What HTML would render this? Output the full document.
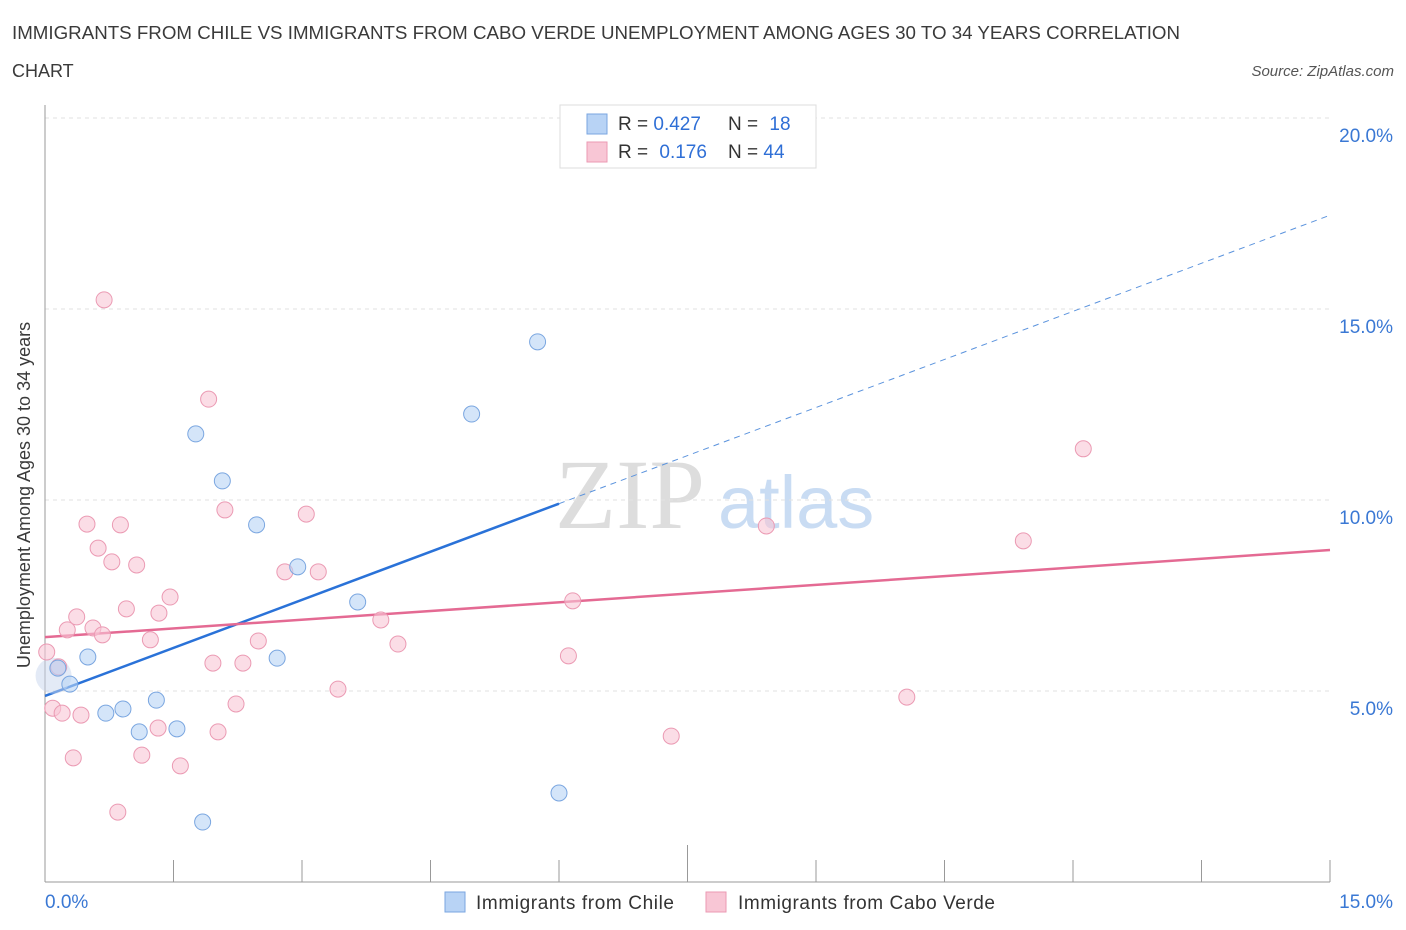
<!DOCTYPE html>
<html><head><meta charset="utf-8"><style>
body{margin:0;background:#fff;font-family:"Liberation Sans",sans-serif;}
#wrap{position:relative;width:1406px;height:930px;overflow:hidden}
</style></head><body>
<div id="wrap">
<svg id="svg" width="1406" height="930" xmlns="http://www.w3.org/2000/svg">
<text x="12" y="39" font-size="18" fill="#3a3a3a" textLength="1168" lengthAdjust="spacingAndGlyphs">IMMIGRANTS FROM CHILE VS IMMIGRANTS FROM CABO VERDE UNEMPLOYMENT AMONG AGES 30 TO 34 YEARS CORRELATION</text>
<text x="12" y="77" font-size="18" fill="#3a3a3a">CHART</text>
<text x="1394" y="76" font-size="15" fill="#555" font-style="italic" text-anchor="end">Source: ZipAtlas.com</text>
<text x="555" y="528" font-size="100" fill="#ddd" font-family="Liberation Serif,serif">ZIP</text>
<text x="718" y="528" font-size="74" fill="#c9dcf3">atlas</text>
<text x="30" y="495" font-size="18" fill="#3a3a3a" text-anchor="middle" transform="rotate(-90 30 495)">Unemployment Among Ages 30 to 34 years</text>
<g id="grid"></g><g id="lines"></g><g id="pts"></g>
<g>
<rect x="560" y="105" width="256" height="63" fill="#fff" stroke="#ddd"/>
<rect x="587" y="114" width="20" height="20" fill="#b8d3f5" stroke="#7aa6e0"/>
<rect x="587" y="142" width="20" height="20" fill="#f8c6d5" stroke="#eb9ab3"/>
<text x="618" y="130" font-size="19" fill="#333">R = <tspan fill="#2f6fd6">0.427</tspan></text>
<text x="728" y="130" font-size="19" fill="#333">N = <tspan fill="#2f6fd6" dx="6">18</tspan></text>
<text x="618" y="158" font-size="19" fill="#333">R = <tspan fill="#2f6fd6" dx="6">0.176</tspan></text>
<text x="728" y="158" font-size="19" fill="#333">N = <tspan fill="#2f6fd6">44</tspan></text>
</g>
<g>
<rect x="445" y="892" width="20" height="20" fill="#b8d3f5" stroke="#7aa6e0"/>
<text x="476" y="909" font-size="19" fill="#333" textLength="198">Immigrants from Chile</text>
<rect x="706" y="892" width="20" height="20" fill="#f8c6d5" stroke="#eb9ab3"/>
<text x="738" y="909" font-size="19" fill="#333" textLength="257">Immigrants from Cabo Verde</text>
</g>
</svg>
</div>
<script>
const yTicks=[5,10,15,20];
const yTickLabels=["5.0%","10.0%","15.0%","20.0%"];
const xTickLabels=["0.0%","15.0%"];
const chileX=[0.15,0.29,0.50,0.71,0.91,1.10,1.30,1.54,1.76,1.84,2.07,2.47,2.71,2.95,3.65,4.98,5.75,6.00];
const chileY=[5.60,5.18,5.89,4.42,4.53,3.93,4.76,4.01,11.73,1.57,10.50,9.35,5.86,8.25,7.33,12.25,14.14,2.33];
const caboX=[0.02,0.09,0.16,0.20,0.26,0.33,0.37,0.42,0.49,0.56,0.62,0.67,0.69,0.78,0.85,0.88,0.95,1.07,1.13,1.23,1.32,1.33,1.46,1.58,1.91,1.96,2.02,2.10,2.23,2.31,2.49,2.80,3.05,3.19,3.42,3.92,4.12,6.11,6.16,7.31,8.42,10.06,11.42,12.12];
const caboY=[6.02,4.55,5.63,4.42,6.60,3.25,6.94,4.37,9.37,6.65,8.74,6.47,15.24,8.38,1.83,9.35,7.15,8.30,3.32,6.34,4.03,7.04,7.46,3.04,12.64,5.73,3.93,9.74,4.66,5.73,6.31,8.12,9.63,8.12,5.05,6.86,6.23,5.92,7.36,3.82,9.32,4.84,8.93,11.34];
const chileTrend=[4.87,0.839,6.0];
const caboTrend=[6.41,0.152];
const NS="http://www.w3.org/2000/svg";
const sx=v=>45+v/15*1285, sy=v=>882-v/5*191;
function mk(t,a,p){const e=document.createElementNS(NS,t);for(const k in a)e.setAttribute(k,a[k]);p.appendChild(e);return e;}
const grid=document.getElementById('grid'),lines=document.getElementById('lines'),pts=document.getElementById('pts');
yTicks.forEach((t,i)=>{
 const l=mk('line',{x1:45,x2:1330,y1:sy(t),y2:sy(t),stroke:'#e2e2e2','stroke-dasharray':'4 4'},grid);
 
 
 const tx=mk('text',{x:1393,y:sy(t)+24,'font-size':19,fill:'#3a78d4','text-anchor':'end'},grid);
 tx.textContent=yTickLabels[i];
 
 
});
const ax=mk('line',{x1:45,x2:45,y1:105,y2:882,stroke:'#999'},grid);


const bx=mk('line',{x1:45,x2:1330,y1:882,y2:882,stroke:'#999'},grid);


for(let i=0;i<=10;i++){const v=i*1.5;const t=mk('line',{x1:sx(v),x2:sx(v),y1:i==5?845:860,y2:882,stroke:'#999'},grid);
 
 }
[[0,'start',45],[15,'end',1393]].forEach((a,i)=>{const t=mk('text',{x:a[2],y:908,'font-size':19,fill:'#3a78d4','text-anchor':a[1]},grid);t.textContent=xTickLabels[i];
 
 });
let l1=mk('line',{x1:sx(0),y1:sy(chileTrend[0]),x2:sx(chileTrend[2]),y2:sy(chileTrend[0]+chileTrend[1]*chileTrend[2]),stroke:'#2a72d8','stroke-width':2.5},lines);


let l2=mk('line',{x1:sx(chileTrend[2]),y1:sy(chileTrend[0]+chileTrend[1]*chileTrend[2]),x2:sx(15),y2:sy(chileTrend[0]+chileTrend[1]*15),stroke:'#5b93dd','stroke-width':1,'stroke-dasharray':'6 5'},lines);


let l3=mk('line',{x1:sx(0),y1:sy(caboTrend[0]),x2:sx(15),y2:sy(caboTrend[0]+caboTrend[1]*15),stroke:'#e46a93','stroke-width':2.5},lines);


const big=mk('circle',{cx:sx(0.1),cy:sy(5.4),r:18,fill:'#c8d6ee','fill-opacity':0.5},pts);


caboX.forEach((x,i)=>{const c=mk('circle',{cx:sx(x),cy:sy(caboY[i]),r:8,fill:'#f8c6d5','fill-opacity':0.6,stroke:'#eb9ab3','stroke-width':1},pts);
 
 });
chileX.forEach((x,i)=>{const c=mk('circle',{cx:sx(x),cy:sy(chileY[i]),r:8,fill:'#b8d3f5','fill-opacity':0.6,stroke:'#7aa6e0','stroke-width':1},pts);
 
 });
</script>
</body></html>
